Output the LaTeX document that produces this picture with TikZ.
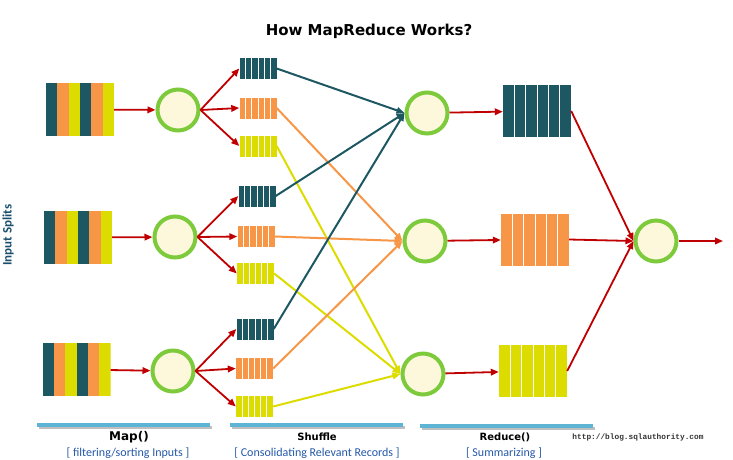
\documentclass[tikz,border=0pt]{standalone}
\usepackage{fontspec}
\setmainfont{Carlito}
\newfontfamily\headfont{DejaVu Sans}
\newfontfamily\webfont{Liberation Mono}
\usetikzlibrary{calc,arrows.meta}
\definecolor{tealc}{HTML}{1D5862}
\definecolor{orangec}{HTML}{F79646}
\definecolor{yellowc}{HTML}{DCDC00}
\definecolor{ringgreen}{HTML}{7DCB3C}
\definecolor{cream}{HTML}{FDF8DC}
\definecolor{arrowred}{HTML}{C00000}
\definecolor{barblue}{HTML}{5DB4D4}
\definecolor{labelblue}{HTML}{2458A8}
\definecolor{splitblue}{HTML}{1A4F6E}

\begin{document}
\begin{tikzpicture}[x=1pt,y=-1pt]
        \tikzstyle{every node}+=[inner sep=0pt]
        \tikzstyle{proc}=[circle, draw=ringgreen, line width=4pt, fill=cream, minimum size=41pt]
        \tikzstyle{queue}=[rectangle, minimum width=37pt, minimum height=21pt,
          path picture={\foreach \k in {1,...,5}
            \draw [white, line width=1pt] ($(path picture bounding box.south west)!\k/6!(path picture bounding box.south east)$)
              -- ($(path picture bounding box.north west)!\k/6!(path picture bounding box.north east)$);}]
        \tikzstyle{bigqueue}=[queue, minimum width=68pt, minimum height=52pt]
        \tikzstyle{split}=[rectangle, minimum width=68pt, minimum height=53pt,
          path picture={\foreach \c/\k/\j in {tealc/0/1,orangec/1/2,yellowc/2/3,tealc/3/4,orangec/4/5,yellowc/5/6}
            \fill [\c] ($(path picture bounding box.south west)!\k/6!(path picture bounding box.south east)$)
              rectangle ($(path picture bounding box.north west)!\j/6!(path picture bounding box.north east)$);}]
        \tikzstyle{flow}=[draw=arrowred, line width=1.8pt, -{Triangle[length=8pt,width=6.5pt]}]
        \tikzstyle{mix}=[line width=2pt, -{Triangle[length=8pt,width=6.5pt]}]
        \tikzstyle{stage}=[font=\headfont\bfseries\fontsize{10}{10}\selectfont]
        \tikzstyle{note}=[text=labelblue, font=\fontsize{12}{12}\selectfont]
        \tikzstyle{bar}=[line width=4pt, draw=barblue]
        \useasboundingbox (0,0) rectangle (733,459);
        \node (title) at (369,31) [font=\headfont\bfseries\fontsize{15}{15}\selectfont] {How MapReduce Works?};
        \node (splitlabel) at (8,235) [rotate=90, text=splitblue, font=\bfseries\fontsize{13}{13}\selectfont] {Input Splits};
        \node (split1) at (80,109.5) [split] {};
        \node (split2) at (78,237.5) [split] {};
        \node (split3) at (76.5,369.5) [split] {};
        \node (map1) at (178,110) [proc] {};
        \node (map2) at (175,237) [proc] {};
        \node (map3) at (173,371) [proc] {};
        \node (q11) at (258,68.5) [queue, fill=tealc] {};
        \node (q12) at (258,108) [queue, fill=orangec] {};
        \node (q13) at (258,146) [queue, fill=yellowc] {};
        \node (q21) at (257,196) [queue, fill=tealc] {};
        \node (q22) at (256,236.5) [queue, fill=orangec] {};
        \node (q23) at (255.5,273.5) [queue, fill=yellowc] {};
        \node (q31) at (255,329) [queue, fill=tealc] {};
        \node (q32) at (254.5,368.5) [queue, fill=orangec] {};
        \node (q33) at (254.5,406.5) [queue, fill=yellowc] {};
        \node (red1) at (427,113) [proc] {};
        \node (red2) at (425,241) [proc] {};
        \node (red3) at (423,374) [proc] {};
        \node (rb1) at (537,111) [bigqueue, fill=tealc] {};
        \node (rb2) at (535,239.5) [bigqueue, fill=orangec] {};
        \node (rb3) at (533,371) [bigqueue, fill=yellowc] {};
        \node (final) at (656,241) [proc] {};
        \coordinate (out) at (723,241);
        \draw [flow] (split1) -- (map1);
        \draw [flow] (split2) -- (map2);
        \draw [flow] (split3) -- (map3);
        \draw [flow] (map1.east) -- (q11.west);
        \draw [flow] (map1.east) -- (q12.west);
        \draw [flow] (map1.east) -- (q13.west);
        \draw [flow] (map2.east) -- (q21.west);
        \draw [flow] (map2.east) -- (q22.west);
        \draw [flow] (map2.east) -- (q23.west);
        \draw [flow] (map3.east) -- (q31.west);
        \draw [flow] (map3.east) -- (q32.west);
        \draw [flow] (map3.east) -- (q33.west);
        \draw [mix, draw=yellowc] (q13.east) -- (red3.west);
        \draw [mix, draw=yellowc] (q23.east) -- (red3.west);
        \draw [mix, draw=yellowc] (q33.east) -- (red3.west);
        \draw [mix, draw=orangec] (q12.east) -- (red2.west);
        \draw [mix, draw=orangec] (q22.east) -- (red2.west);
        \draw [mix, draw=orangec] (q32.east) -- (red2.west);
        \draw [mix, draw=tealc] (q11.east) -- (red1.west);
        \draw [mix, draw=tealc] (q21.east) -- (red1.west);
        \draw [mix, draw=tealc] (q31.east) -- (red1.west);
        \draw [flow] (red1) -- (rb1);
        \draw [flow] (red2) -- (rb2);
        \draw [flow] (red3) -- (rb3);
        \draw [flow] (rb1.east) -- (final.west);
        \draw [flow] (rb2.east) -- (final.west);
        \draw [flow] (rb3.east) -- (final.west);
        \draw [flow] (final) -- (out);
        \draw [line width=3pt, draw=black!25] (39,427.5) -- (212,427.5);
        \draw [line width=3pt, draw=black!25] (232,427.5) -- (405,427.5);
        \draw [line width=3pt, draw=black!25] (422,428) -- (595,428);
        \draw [bar] (37,425) -- (210,425);
        \draw [bar] (230,425) -- (403,425);
        \draw [bar] (420,425.5) -- (593,425.5);
        \node (mapname) at (129,437) [stage, font=\headfont\bfseries\fontsize{12}{12}\selectfont] {Map()};
        \node (mapnote) at (128,453) [note] {[ filtering/sorting Inputs ]};
        \node (shufname) at (317,437) [stage] {Shuffle};
        \node (shufnote) at (317,453) [note] {[ Consolidating Relevant Records ]};
        \node (redname) at (505,437) [stage] {Reduce()};
        \node (rednote) at (504,453) [note] {[ Summarizing ]};
        \node (site) at (638,437) [text=black!80, font=\webfont\bfseries\fontsize{7.8}{8}\selectfont] {http://blog.sqlauthority.com};
\end{tikzpicture}
\end{document}
